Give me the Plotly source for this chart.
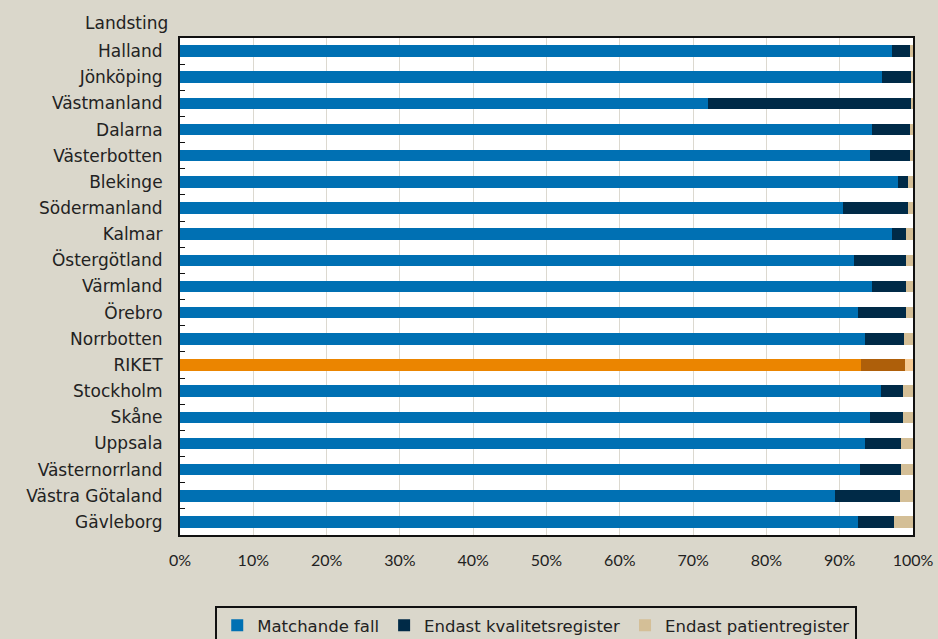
import plotly.graph_objects as go

landsting = ["Halland", "Jönköping", "Västmanland", "Dalarna", "Västerbotten", "Blekinge",
             "Södermanland", "Kalmar", "Östergötland", "Värmland", "Örebro", "Norrbotten",
             "RIKET", "Stockholm", "Skåne", "Uppsala", "Västernorrland", "Västra Götaland", "Gävleborg"]
matchande = [97.2, 95.8, 72.0, 94.4, 94.1, 97.9, 90.5, 97.1, 92.0, 94.4, 92.5, 93.4,
             92.9, 95.7, 94.2, 93.5, 92.8, 89.4, 92.5]
kvalitet = [2.4, 3.9, 27.7, 5.2, 5.5, 1.4, 8.8, 2.0, 7.1, 4.6, 6.5, 5.4,
            6.0, 2.9, 4.4, 4.9, 5.6, 8.8, 4.9]
patient = [0.4, 0.3, 0.3, 0.4, 0.4, 0.7, 0.7, 0.9, 0.9, 1.0, 1.0, 1.2,
           1.1, 1.4, 1.4, 1.6, 1.6, 1.8, 2.6]
series_names = ["Matchande fall", "Endast kvalitetsregister", "Endast patientregister"]
x_ticks = [0, 10, 20, 30, 40, 50, 60, 70, 80, 90, 100]

base_colors = ["#0070B3", "#002A47", "#D4BF97"]
riket_colors = ["#EB8500", "#AE5F0A", "#F6CB94"]

label_font = "DejaVu Sans, sans-serif"

fig = go.Figure()
for name, vals, c, rc in zip(series_names, [matchande, kvalitet, patient], base_colors, riket_colors):
    cols = [rc if l == "RIKET" else c for l in landsting]
    fig.add_trace(go.Bar(
        y=landsting, x=vals, name=name, orientation="h",
        marker=dict(color=cols, line=dict(width=0)),
        width=0.44,
    ))

fig.update_layout(
    barmode="stack",
    width=938, height=639,
    paper_bgcolor="#DAD7CB",
    plot_bgcolor="#FFFFFF",
    margin=dict(l=180, r=25, t=38, b=104, autoexpand=False),
    font=dict(family="Lato, sans-serif", size=16, color="#222222"),
    showlegend=True,
    legend=dict(
        orientation="h", x=0.486, xanchor="center",
        yref="container", y=(639 - 606) / 639, yanchor="top",
        bgcolor="#DAD7CB", bordercolor="#111111", borderwidth=2,
        font=dict(size=16.5, color="#222222", family=label_font),
        traceorder="normal", itemwidth=30,
    ),
    annotations=[dict(text="Landsting", xref="paper", yref="paper", x=-0.0136, y=1.0,
                      xanchor="right", yanchor="bottom", showarrow=False,
                      font=dict(size=17, color="#222222", family=label_font), yshift=3)],
)
fig.update_xaxes(
    range=[0, 100], tickvals=x_ticks, ticktext=[f"{v}%" for v in x_ticks],
    showgrid=True, gridcolor="#DCD9D0", gridwidth=1,
    showline=True, linecolor="#111111", linewidth=2, mirror=True,
    zeroline=False, ticks="", ticklabelstandoff=10, automargin=False,
)
fig.update_yaxes(
    autorange="reversed", categoryorder="array", categoryarray=landsting,
    showline=True, linecolor="#111111", linewidth=2, mirror=True,
    ticks="inside", tickson="boundaries", ticklen=5, tickcolor="#111111",
    showgrid=False, ticklabelstandoff=12, automargin=False,
    tickfont=dict(size=17, family=label_font),
)

fig.write_html("out.html")
